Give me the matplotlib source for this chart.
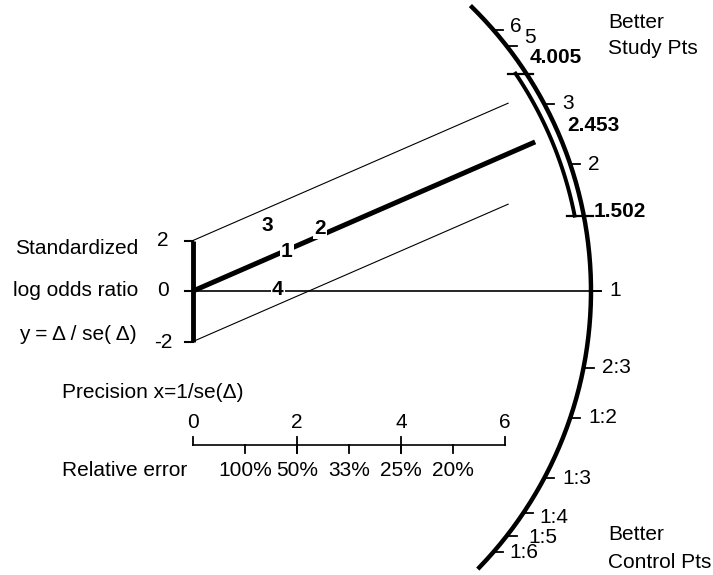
# Galbraith (radial) plot of standardized log odds ratios.

import numpy as np
import matplotlib.pyplot as plt

plt.rcParams['font.family'] = ['Liberation Sans', 'DejaVu Sans']

# Values.
odds_ticks = [6, 5, 3, 2, 1, 2/3, 1/2, 1/3, 1/4, 1/5, 1/6]
odds_labels = ['6', '5', '3', '2', '1', '2:3', '1:2', '1:3', '1:4', '1:5', '1:6']
pooled_or = 2.453
ci_low, ci_high = 1.502, 4.005
study_ids = ['1', '2', '3', '4']
study_x = [1.80, 2.44, 1.42, 1.63]
study_y = [1.56, 2.46, 2.61, 0.04]
prec_ticks = [0, 2, 4, 6]
relerr_pos = [1, 2, 3, 4, 5]
relerr_labels = ['100%', '50%', '33%', '25%', '20%']
y_ticks = [-2, 0, 2]

W, H = 713, 575
fig = plt.figure(figsize=(W / 100, H / 100), dpi=100)
ax = fig.add_axes([0, 0, 1, 1])
ox, oy = 193, 291      # origin in pixels
sx, sy = 52, 25.25     # pixels per data unit
ax.set_xlim(-ox / sx, (W - ox) / sx)
ax.set_ylim(-(H - oy) / sy, oy / sy)
ax.axis('off')


def px(d):
    return d / sx


def py(d):
    return d / sy


k = sx / sy
R = 398 / sx


def arc_pt(odds, r=R):
    t = np.arctan(np.log(odds) / k)
    return r * np.cos(t), r * k * np.sin(t)


fs = 15

# the odds ratio arc
t = np.radians(np.linspace(-44, 45.5, 300))
ax.plot(R * np.cos(t), R * k * np.sin(t), color='black', lw=3.2)

# arc ticks and labels
label_shift = {'6': (-1, 3), '5': (0, 8), '1:5': (4, -1), '1:4': (-2, -4), '1:6': (-2, 0)}
for o, lab in zip(odds_ticks, odds_labels):
    x, y = arc_pt(o)
    ax.plot([x, x + px(10)], [y, y], color='black', lw=1.3)
    dx, dy = label_shift.get(lab, (0, 0))
    ax.text(x + px(18 + dx), y + py(dy), lab, ha='left', va='center', fontsize=fs)

# confidence interval on the arc
r2 = R - px(9)
tc = np.linspace(np.arctan(np.log(ci_low) / k), np.arctan(np.log(ci_high) / k), 100)
ax.plot(r2 * np.cos(tc), r2 * k * np.sin(tc), color='black', lw=2.8)
for o in [ci_low, ci_high]:
    xi, yi = arc_pt(o, r2)
    xo, yo = arc_pt(o)
    ax.plot([xi - px(8), xo + px(10)], [yi, yi], color='black', lw=1.6)

ci_vals = [ci_high, pooled_or, ci_low]
ci_shift = [(7, 11), (9, 7), (10, 2)]
for v, (dx, dy) in zip(ci_vals, ci_shift):
    x, y = arc_pt(v)
    ax.text(x + px(dx), y + py(dy), f'{v:.3f}', ha='left', va='center',
            fontsize=fs, fontweight='bold')

# pooled line and +/-2 band
b = np.log(pooled_or)
ax.plot([0, 6.58], [0, 6.58 * b], color='black', lw=3.6, solid_capstyle='butt')
for off in [2, -2]:
    ax.plot([0, 6.06], [off, off + 6.06 * b], color='black', lw=0.8)
ax.plot([0, R + px(10)], [0, 0], color='black', lw=1.2)

# study points
for sid, x, y in zip(study_ids, study_x, study_y):
    ax.text(x, y, sid, ha='center', va='center', fontsize=fs, fontweight='bold',
            bbox=dict(fc='white', ec='none', pad=0.8), zorder=5)

# y axis
ax.plot([0, 0], [-2, 2], color='black', lw=3.5, solid_capstyle='butt')
for v in y_ticks:
    ax.plot([-px(8), 0], [v, v], color='black', lw=1.5)
    ax.text(-px(30), v - py(1 if v < 0 else 0), str(v), ha='center', va='center', fontsize=fs)

ax.text(-px(55), py(43), 'Standardized', ha='right', va='center', fontsize=fs)
ax.text(-px(55), 0, 'log odds ratio', ha='right', va='center', fontsize=fs)
ax.text(-px(56), -py(44), 'y = Δ / se( Δ)', ha='right', va='center', fontsize=fs)

# precision axis
ya = -py(445 - oy)
ax.plot([0, 6], [ya, ya], color='black', lw=1.2)
for v in prec_ticks:
    lo = ya - py(8) if v not in (prec_ticks[0], prec_ticks[-1]) else ya
    ax.plot([v, v], [lo, ya + py(8)], color='black', lw=1.3)
    ax.text(v, -py(423 - oy), str(v), ha='center', va='center', fontsize=fs)
for v, lab in zip(relerr_pos, relerr_labels):
    ax.plot([v, v], [ya - py(8), ya], color='black', lw=1.3)
    ax.text(v, -py(471 - oy), lab, ha='center', va='center', fontsize=fs)

ax.text(-px(131), -py(392 - oy), 'Precision x=1/se(Δ)', ha='left', va='center', fontsize=fs)
ax.text(-px(131), -py(471 - oy), 'Relative error', ha='left', va='center', fontsize=fs)

# corner notes
fig.text(608 / W, 1 - 22 / H, 'Better', ha='left', va='center', fontsize=fs)
fig.text(608 / W, 1 - 48 / H, 'Study Pts', ha='left', va='center', fontsize=fs)
fig.text(608 / W, 1 - 535 / H, 'Better', ha='left', va='center', fontsize=fs)
fig.text(608 / W, 1 - 563 / H, 'Control Pts', ha='left', va='center', fontsize=fs)

fig.savefig('out.png', dpi=100)
